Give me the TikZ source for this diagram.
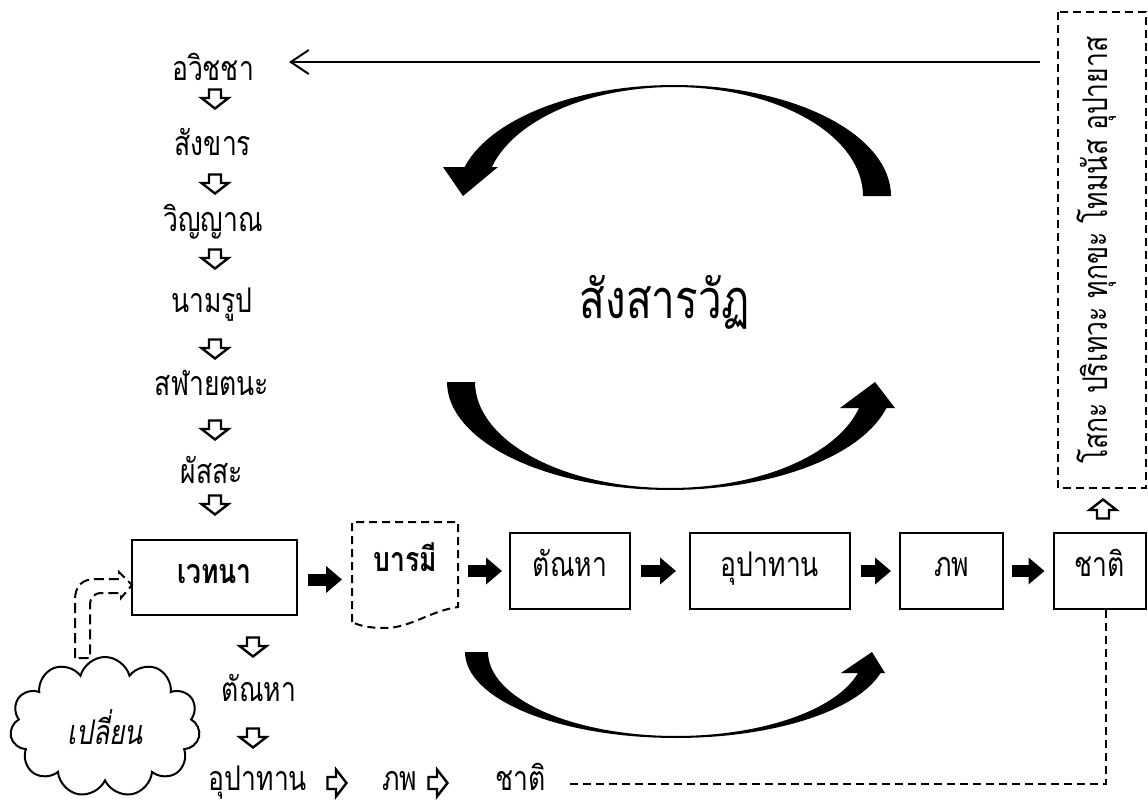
\documentclass[tikz,border=0pt]{standalone}
\usepackage{fontspec}
\setmainfont{Loma}[Script=Thai, FakeStretch=0.78, BoldFont={Loma Bold}, ItalicFont={Loma Oblique}]
\usetikzlibrary{arrows.meta,shapes.symbols,calc}
\begin{document}
\begin{tikzpicture}[x=0.5pt,y=-0.5pt,
  lbl/.style={inner sep=0pt, anchor=base, font=\fontsize{17}{19}\selectfont},
  box/.style={draw, line width=1pt, inner sep=0pt, text height=0.55em, text depth=0pt, font=\fontsize{17}{19}\selectfont},
  blkarrow/.style={line width=6pt, -{Triangle[length=8pt,width=13pt]}},
  dline/.style={dash pattern=on 4pt off 2.5pt, line width=1pt},
  harrow/.pic={\draw[line width=1.2pt, line join=miter, fill=white] (-6,-9.5) -- (6,-9.5) -- (6,-1) -- (13.5,-1) -- (0,9.5) -- (-13.5,-1) -- (-6,-1) -- cycle;}
]
\fill[white] (0,0) rectangle (1148,804);
\useasboundingbox (0,0) rectangle (1148,804);

% left column
\node[lbl] (avijja) at (213,80) {อวิชชา};
\pic at (215,99) {harrow};
\node[lbl] (sankhara) at (213,155) {สังขาร};
\pic at (215,184) {harrow};
\node[lbl] (vinnana) at (213,231) {วิญญาณ};
\pic at (215,259) {harrow};
\node[lbl] (namarupa) at (212,312) {นามรูป};
\pic at (215,349) {harrow};
\node[lbl] (salayatana) at (212,395) {สฬายตนะ};
\pic at (215,430) {harrow};
\node[lbl] (phassa) at (212,483) {ผัสสะ};
\pic at (215,505) {harrow};

% main row
\node[box, font=\fontsize{17}{19}\selectfont\bfseries, minimum width=82.5pt, minimum height=37.5pt] (vedana) at (214.5,577.5) {เวทนา};
\node[box, draw=none, font=\fontsize{17}{19}\selectfont\bfseries, minimum width=53pt, minimum height=40pt] (barami) at (405,566) {บารมี};
\draw[dline] (352,622) -- (352,522) -- (458,522) -- (458,607)
  .. controls (430,611) and (410,628) .. (385,628)
  .. controls (370,628) and (360,626) .. (352,622);
\node[box, minimum width=60pt, minimum height=38pt] (tanha) at (570,571) {ตัณหา};
\node[box, minimum width=80pt, minimum height=38pt] (upadana) at (770,571) {อุปาทาน};
\node[box, minimum width=51.5pt, minimum height=38pt] (bhava) at (951.5,571) {ภพ};
\node[box, minimum width=46pt, minimum height=38pt] (jati) at (1099.5,571) {ชาติ};

\draw[blkarrow] ($(vedana.east)+(10,2)$) -- ($(vedana.east -| barami.west)+(-9,2)$);
\draw[blkarrow] ($(barami.east |- tanha.west)+(9,0)$) -- ($(tanha.west)+(-7,0)$);
\draw[blkarrow] ($(tanha.east)+(10,0)$) -- ($(upadana.west)+(-13,0)$);
\draw[blkarrow] ($(upadana.east)+(10,0)$) -- ($(bhava.west)+(-8,0)$);
\draw[blkarrow] ($(bhava.east)+(8,0)$) -- ($(jati.west)+(-8,0)$);

% right dashed box
\node[draw, dline, rotate=90, minimum width=238pt, minimum height=44pt, inner sep=0pt, text height=0.55em, text depth=0pt, font=\fontsize{17}{19}\selectfont] (grief) at (1102,250) {โสกะ ปริเทวะ ทุกขะ โทมนัส อุปายาส};
\pic[rotate=180] at (1103,509) {harrow};

% long arrow back to avijja
\coordinate (lstart) at (1040,62);
\coordinate (lend) at (289,62);
\draw[line width=1pt, -{Straight Barb[length=9pt,width=12pt]}] (lstart) -- (lend);

% title
\node[inner sep=0pt, anchor=base, font=\fontsize{27}{30}\selectfont] (samsara) at (665,318) {สังสารวัฏ};

% crescent arrows
\fill (891,196) -- plot[domain=0:164.9, samples=60] ({674+217*cos(\x)},{196-111*sin(\x)})
  -- (443,167) -- (463,196) -- (498,167)
  -- plot[domain=164.6:0, samples=60] ({674+189*cos(\x)},{196-109*sin(\x)}) -- cycle;
\fill (447,382) -- plot[domain=180:346.07, samples=60] ({670+223*cos(\x)},{382-108*sin(\x)})
  -- (895,408) -- (875,382) -- (840,408)
  -- plot[domain=345.8:180, samples=60] ({670+195*cos(\x)},{382-106*sin(\x)}) -- cycle;
\fill (465,652) -- plot[domain=180:345.87, samples=60] ({676+211*cos(\x)},{652-86*sin(\x)})
  -- (885,673) -- (872,652) -- (841,673)
  -- plot[domain=345.52:180, samples=60] ({676+188*cos(\x)},{652-84*sin(\x)}) -- cycle;

% lower left chain
\pic at (253,647) {harrow};
\node[lbl] (tanha2) at (259,701) {ตัณหา};
\pic at (253,738) {harrow};
\node[lbl] (upadana2) at (258,790) {อุปาทาน};
\pic[rotate=90] at (337,783) {harrow};
\node[lbl] (bhava2) at (400,790) {ภพ};
\pic[rotate=90] at (438,783) {harrow};
\node[lbl] (jati2) at (521,790) {ชาติ};
\coordinate (jend) at (565,784);
\draw[dline] ($(jati.south)+(6,0)$) |- (jend);

% cloud
\node[cloud, cloud puffs=11, aspect=1.35, draw, line width=1pt, minimum width=95pt, minimum height=70pt, inner sep=0pt, font=\fontsize{17}{19}\selectfont\itshape] (cloud) at (105,727) {เปลี่ยน};
\draw[dash pattern=on 5pt off 2.5pt, line width=1pt, line join=miter]
  (75,658) -- (75,600) .. controls (75,586) and (82,579) .. (96,579) -- (119,579) -- (119,572)
  -- (132,585) -- (121,598) -- (121,593) -- (102,593) .. controls (94,593) and (90,597) .. (90,606)
  -- (90,658) -- cycle;
\end{tikzpicture}
\end{document}
